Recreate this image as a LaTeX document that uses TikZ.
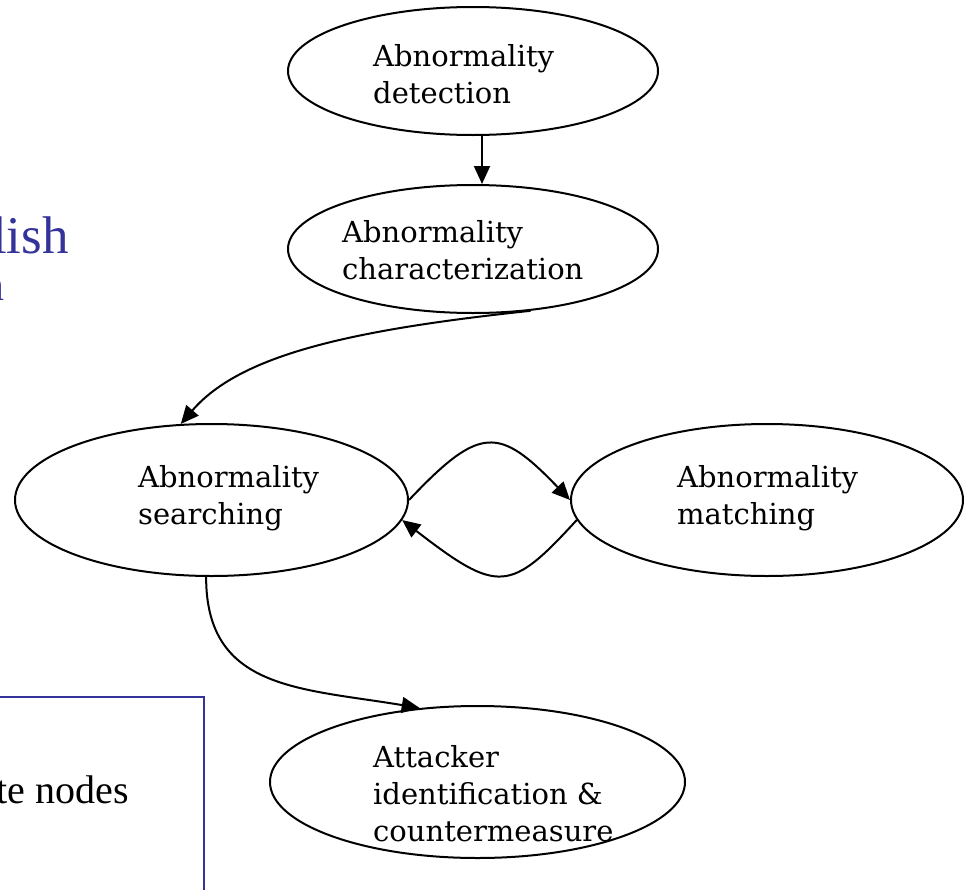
\documentclass[tikz,border=0pt]{standalone}
\usepackage{fontspec}
\setmainfont{Liberation Serif}
\newfontfamily\labelfont{DejaVu Serif}
\usetikzlibrary{shapes.geometric,arrows.meta}

\definecolor{slideblue}{RGB}{51,51,153}

% stacked label lines, baseline on the first line
\newcommand{\nodelines}[1]{\begin{tabular}[t]{@{}l@{}}#1\end{tabular}}

\tikzset{
  stage/.style={draw=black, line width=2pt, ellipse, inner sep=0pt},
  stagetext/.style={anchor=base west, inner sep=0pt,
    font=\labelfont\fontsize{29}{37}\selectfont},
  flow/.style={draw=black, line width=2pt,
    -{Triangle[length=18pt,width=16pt]}},
}

\begin{document}
\begin{tikzpicture}[x=1pt, y=-1pt]
\useasboundingbox (0,0) rectangle (969,889);
\clip (0,0) rectangle (969,889);

% slide text behind the diagram
\node[anchor=base east, inner sep=0pt, text=slideblue,
      font=\fontsize{53}{53}\selectfont] (titleA) at (69,253) {lish};
\node[anchor=base east, inner sep=0pt, text=slideblue,
      font=\fontsize{44}{44}\selectfont] (titleB) at (4.5,300) {n};
\draw[slideblue, line width=1.6pt] (-10,697) -- (204,697) -- (204,900);
\node[anchor=base east, inner sep=0pt,
      font=\fontsize{40}{40}\selectfont] (boxtext) at (129,803) {te nodes};

% stages
\node[stage, minimum width=370pt, minimum height=128pt] (det)  at (473,71) {};
\node[stage, minimum width=370pt, minimum height=128pt] (chr)  at (473,249) {};
\node[stage, minimum width=393pt, minimum height=152pt] (srch) at (211.5,500) {};
\node[stage, minimum width=392pt, minimum height=152pt] (mtch) at (767,500) {};
\node[stage, minimum width=415pt, minimum height=152pt] (atk)  at (477.5,782) {};

% stage labels
\node[stagetext] (detL)  at (373,66)  {\nodelines{Abnormality\\detection}};
\node[stagetext] (chrL)  at (342,242) {\nodelines{Abnormality\\characterization}};
\node[stagetext] (srchL) at (138,487) {\nodelines{Abnormality\\searching}};
\node[stagetext] (mtchL) at (677,487) {\nodelines{Abnormality\\matching}};
\node[stagetext] (atkL)  at (373,767) {\nodelines{Attacker\\identification \&\\countermeasure}};

% connectors
\draw[flow] ([xshift=9pt]det.south) -- ([xshift=9pt]chr.north);
\draw[flow] (chr.-47) .. controls (350,330) and (240,355) .. (srch.112);
\draw[flow] (srch.east) .. controls (480,425) and (499,426) .. (mtch.west);
\draw[flow] (mtch.186) .. controls (510,593) and (498,594) .. (srch.-6);
\draw[flow] (srch.-94) .. controls (206,690) and (300,688) .. (atk.128);
\end{tikzpicture}
\end{document}
